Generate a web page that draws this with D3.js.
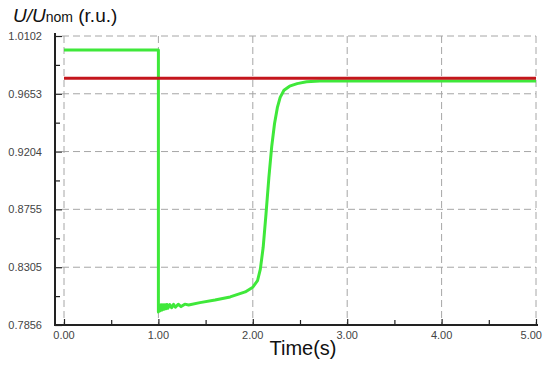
<!DOCTYPE html>
<html><head><meta charset="utf-8">
<script src="https://cdn.jsdelivr.net/npm/d3@7"></script>
<style>body{margin:0;background:#fff}svg{display:block;font-family:"Liberation Sans",Arial,sans-serif}</style>
</head><body>
<script>
// Data
const yTicks = [0.7856, 0.8305, 0.8755, 0.9204, 0.9653, 1.0102];
const yTickLabels = ["0.7856", "0.8305", "0.8755", "0.9204", "0.9653", "1.0102"];
const xTicks = [0, 1, 2, 3, 4, 5];
const xTickLabels = ["0.00", "1.00", "2.00", "3.00", "4.00", "5.00"];
const refTime = [0, 5];
const refValue = [0.9773, 0.9773];
const voltTime = [0, 1.0, 1.0, 1.01, 1.02, 1.03, 1.04, 1.05, 1.06, 1.07, 1.08, 1.09, 1.10, 1.12, 1.14, 1.16, 1.18, 1.21, 1.24, 1.28, 1.32, 1.44, 1.60, 1.76, 1.92, 2.00, 2.05, 2.08, 2.11, 2.14, 2.17, 2.20, 2.23, 2.26, 2.29, 2.33, 2.39, 2.47, 2.57, 2.71, 5.0];
const voltValue = [0.9993, 0.9993, 0.7958, 0.8012, 0.7966, 0.8014, 0.7972, 0.8014, 0.7978, 0.8014, 0.7982, 0.8015, 0.7986, 0.8015, 0.7990, 0.8016, 0.7994, 0.8017, 0.7999, 0.8018, 0.8012, 0.8030, 0.8050, 0.8074, 0.8113, 0.8150, 0.8200, 0.8290, 0.8460, 0.8720, 0.9000, 0.9240, 0.9420, 0.9545, 0.9625, 0.9680, 0.9712, 0.9732, 0.9746, 0.9752, 0.9752];

const W = 544, H = 372;
const svg = d3.select("body").append("svg").attr("width", W).attr("height", H);
const x = d3.scaleLinear().domain([0, 5]).range([64, 536]);
const y = d3.scaleLinear().domain([0.7856, 1.0102]).range([325, 36]);
const axisX0 = 55, axisY0 = 325;

// grid
const grid = svg.append("g").attr("stroke", "#a6a6a6").attr("stroke-width", 1).attr("stroke-dasharray", "7,4");
grid.selectAll(".hg").data(yTicks.slice(1)).join("line")
  .attr("x1", 62).attr("x2", 536).attr("y1", d => y(d)).attr("y2", d => y(d));
grid.selectAll(".vg").data(xTicks).join("line")
  .attr("x1", d => x(d)).attr("x2", d => x(d)).attr("y1", 36).attr("y2", axisY0);

// lines
const line = d3.line().x(d => x(d[0])).y(d => y(d[1]));
svg.append("path").datum(voltTime.map((t, i) => [t, voltValue[i]]))
  .attr("d", line).attr("fill", "none").attr("stroke", "#3fe83a").attr("stroke-width", 3).attr("stroke-linejoin", "round");
svg.append("path").datum(refTime.map((t, i) => [t, refValue[i]]))
  .attr("d", line).attr("fill", "none").attr("stroke", "#c4161c").attr("stroke-width", 3);

// y axis
const yAxis = d3.axisRight(y).tickValues(yTicks).tickSize(7).tickFormat("");
const gy = svg.append("g").attr("transform", `translate(${axisX0},0)`).call(yAxis);
gy.select(".domain").remove();
gy.selectAll(".tick line").attr("stroke", "#222").attr("stroke-width", 1.2);
const yMinor = d3.range(0, 5).map(i => (yTicks[i] + yTicks[i + 1]) / 2);
const gym = svg.append("g").attr("transform", `translate(${axisX0},0)`).call(d3.axisRight(y).tickValues(yMinor).tickSize(5).tickFormat(""));
gym.select(".domain").remove();
gym.selectAll(".tick line").attr("stroke", "#222").attr("stroke-width", 1.2);
svg.append("line").attr("x1", axisX0).attr("x2", axisX0).attr("y1", 33).attr("y2", axisY0 + 1).attr("stroke", "#222").attr("stroke-width", 2);
svg.append("g").selectAll("text").data(yTicks).join("text")
  .attr("x", 42).attr("y", d => y(d) + 4).attr("text-anchor", "end")
  .attr("font-size", 11).attr("fill", "#444").text((d, i) => yTickLabels[i]);

// x axis
const xAxis = d3.axisTop(x).tickValues(xTicks).tickSize(6).tickFormat("");
const gx = svg.append("g").attr("transform", `translate(0,${axisY0})`).call(xAxis);
gx.select(".domain").remove();
gx.selectAll(".tick line").attr("stroke", "#222").attr("stroke-width", 1.2);
const xMinor = [0.5, 1.5, 2.5, 3.5, 4.5];
const gxm = svg.append("g").attr("transform", `translate(0,${axisY0})`).call(d3.axisTop(x).tickValues(xMinor).tickSize(5).tickFormat(""));
gxm.select(".domain").remove();
gxm.selectAll(".tick line").attr("stroke", "#222").attr("stroke-width", 1.2);
svg.append("line").attr("x1", axisX0 - 1).attr("x2", 538).attr("y1", axisY0).attr("y2", axisY0).attr("stroke", "#222").attr("stroke-width", 2);
svg.append("g").selectAll("text").data(xTicks).join("text")
  .attr("x", (d, i) => i === xTicks.length - 1 ? 542 : x(d)).attr("y", 339)
  .attr("text-anchor", (d, i) => i === xTicks.length - 1 ? "end" : "middle")
  .attr("font-size", 11).attr("fill", "#444").text((d, i) => xTickLabels[i]);

// titles
const t = svg.append("text").attr("x", 13).attr("y", 22).attr("font-size", 19).attr("fill", "#111");
t.append("tspan").attr("font-style", "italic").text("U/U");
t.append("tspan").attr("font-size", 14).text("nom");
t.append("tspan").text(" (r.u.)");
svg.append("text").attr("x", 303).attr("y", 355).attr("text-anchor", "middle").attr("font-size", 20).attr("fill", "#111").text("Time(s)");
</script>
</body></html>
